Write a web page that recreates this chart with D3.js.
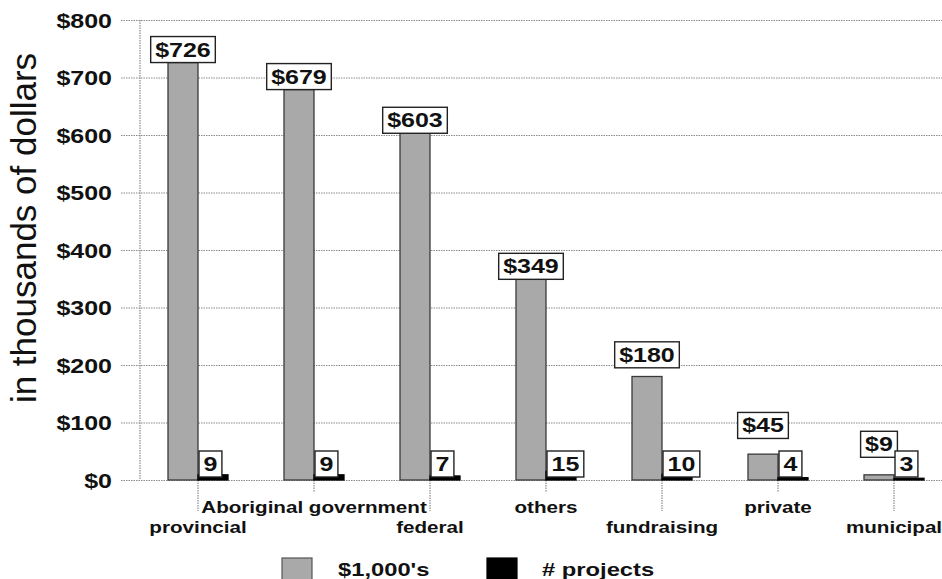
<!DOCTYPE html>
<html>
<head>
<meta charset="utf-8">
<script src="https://cdn.jsdelivr.net/npm/d3@7"></script>
<style>
  body { margin: 0; background: #fff; }
  svg { display: block; font-family: "Liberation Sans", Arial, sans-serif; }
</style>
</head>
<body>
<svg id="chart" width="942" height="579"></svg>
<script>
// Funding sources: amount in $1,000's and number of projects
const categories = ["provincial", "Aboriginal government", "federal", "others", "fundraising", "private", "municipal"];
const dollars = [726, 679, 603, 349, 180, 45, 9];
const projects = [9, 9, 7, 15, 10, 4, 3];
const seriesNames = ["$1,000's", "# projects"];
const yTicks = [0, 100, 200, 300, 400, 500, 600, 700, 800];

const SX = 1.25;           // wide letterforms
const svg = d3.select("#chart");

const x0 = d3.scaleBand().domain(categories).range([140, 952]).padding(0);
const half = x0.bandwidth() / 2;
const x1 = d3.scaleBand().domain(seriesNames).range([half - 30, half + 30]);
const y = d3.scaleLinear().domain([0, 800]).range([480, 20]);
const color = d3.scaleOrdinal().domain(seriesNames).range(["#a9a9a9", "#000"]);

const gridStyle = s => s.attr("stroke", "#8a8a8a").attr("stroke-width", 1.2).attr("stroke-dasharray", "1.5,1");

// y axis with full-width gridlines
const yAxis = svg.append("g")
  .attr("transform", "translate(121,0)")
  .call(d3.axisLeft(y).tickValues(yTicks).tickSize(-(942 - 121)).tickPadding(9)
        .tickFormat(d => "$" + d));
yAxis.select(".domain").remove();
yAxis.selectAll(".tick line").call(gridStyle);
yAxis.selectAll(".tick text")
  .attr("x", null).attr("dy", null)
  .attr("transform", "translate(-9,7) scale(" + SX + ",1)")
  .attr("font-size", 20).attr("font-weight", "bold").attr("fill", "#111");

// vertical axis line
svg.append("line").attr("x1", 140).attr("x2", 140).attr("y1", y(800)).attr("y2", y(0)).call(gridStyle);

// y title
svg.append("text")
  .attr("transform", "translate(36,228) rotate(-90)")
  .attr("text-anchor", "middle")
  .attr("font-size", 35).attr("fill", "#111")
  .text("in thousands of dollars");

// category axis: staggered labels
const xAxis = svg.append("g")
  .attr("transform", "translate(0," + y(0) + ")")
  .call(d3.axisBottom(x0).tickSize(0).tickPadding(0));
xAxis.select(".domain").remove();
xAxis.selectAll(".tick line")
  .attr("y2", (d, i) => i % 2 === 0 ? 31 : 12)
  .call(gridStyle);
xAxis.selectAll(".tick text")
  .attr("y", null).attr("dy", null)
  .attr("transform", (d, i) => "translate(0," + (i % 2 === 0 ? 53 : 33) + ") scale(" + SX + ",1)")
  .attr("font-size", 16.5).attr("font-weight", "bold").attr("fill", "#111");

// bars
const groups = svg.append("g").selectAll("g")
  .data(categories.map((c, i) => ({ c, vals: [dollars[i], projects[i]] })))
  .join("g")
  .attr("transform", d => "translate(" + x0(d.c) + ",0)");

groups.selectAll("rect")
  .data(d => d.vals.map((v, k) => ({ s: seriesNames[k], v })))
  .join("rect")
  .attr("x", d => x1(d.s))
  .attr("width", x1.bandwidth())
  .attr("y", d => y(d.v))
  .attr("height", d => y(0) - y(d.v))
  .attr("fill", d => color(d.s))
  .attr("stroke", d => d.s === seriesNames[0] ? "#3a3a3a" : "#000")
  .attr("stroke-width", 1.3);

// boxed value labels
function boxLabel(g, cx, bottom, str, anchor) {
  const lg = g.append("g");
  const t = lg.append("text")
    .attr("font-size", 20).attr("font-weight", "bold").attr("fill", "#111")
    .attr("text-anchor", "start").text(str);
  const w = t.node().getComputedTextLength() * SX;
  const bw = w + 9, bh = 26;
  const left = anchor === "middle" ? cx - bw / 2 : cx;
  lg.insert("rect", "text")
    .attr("x", left).attr("y", bottom - bh).attr("width", bw).attr("height", bh)
    .attr("fill", "#fff").attr("stroke", "#222").attr("stroke-width", 1.4);
  t.attr("transform", "translate(" + (left + 4.5) + "," + (bottom - 6) + ") scale(" + SX + ",1)");
}

groups.each(function (d) {
  const g = d3.select(this);
  const gx = x1(seriesNames[0]) + x1.bandwidth() / 2;
  const h = y(0) - y(d.vals[0]);
  const gap = Math.max(0, 18 - 0.09 * h);
  boxLabel(g, gx, y(d.vals[0]) - gap, "$" + d.vals[0], "middle");
  boxLabel(g, x1(seriesNames[1]) + 1, y(0) - 3, String(d.vals[1]), "start");
});

// legend
const legend = svg.append("g").selectAll("g")
  .data(seriesNames).join("g")
  .attr("transform", (d, i) => "translate(" + [282, 487][i] + ",558)");
legend.append("rect")
  .attr("width", 30).attr("height", 24)
  .attr("fill", d => color(d))
  .attr("stroke", d => d === seriesNames[0] ? "#555" : "#000").attr("stroke-width", 1.2);
legend.append("text")
  .attr("transform", (d, i) => "translate(" + [56, 55][i] + ",18) scale(" + SX + ",1)")
  .attr("font-size", 19).attr("font-weight", "bold").attr("fill", "#111")
  .text(d => d);
</script>
</body>
</html>
